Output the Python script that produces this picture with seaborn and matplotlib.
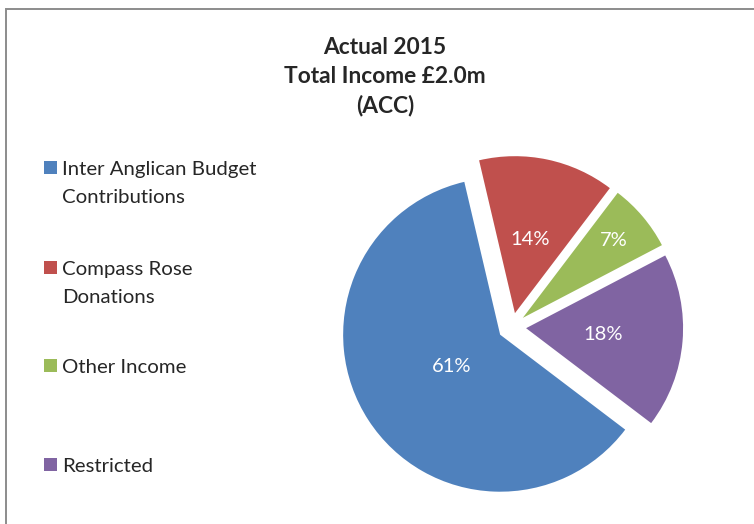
import matplotlib
matplotlib.use("Agg")
import matplotlib.pyplot as plt
from matplotlib.patches import Rectangle
import seaborn as sns
import numpy as np

# data
categories = ["Inter Anglican Budget\nContributions", "Compass Rose\nDonations", "Other Income", "Restricted"]
shares = [61, 14, 7, 18]
colors = ["#4F81BD", "#C0504D", "#9BBB59", "#8064A2"]
title = "Actual 2015\nTotal Income £2.0m\n(ACC)"

sns.set_theme(style="white")
plt.rcParams['font.family'] = ['Lato', 'DejaVu Sans']

W, H = 754, 524
fig = plt.figure(figsize=(W / 100, H / 100), dpi=100)

# chart frame (grey line on left and top only visible)
fig.patches.append(Rectangle((6 / W, -0.1), 1.2, (H - 9) / H + 0.1, transform=fig.transFigure,
                             fill=False, edgecolor="#8c8c8c", linewidth=1.4))

# pie axes: centre at (512, 327) px, radius 157 px
cx, cy, R = 512, H - 327, 157
lim = 1.15
half = lim * R
ax = fig.add_axes([(cx - half) / W, (cy - half) / H, 2 * half / W, 2 * half / H])

explode = [0.09] * len(shares)
wedges, texts, autotexts = ax.pie(
    shares, colors=colors, explode=explode, startangle=-37.2, counterclock=False,
    autopct="%1.0f%%", pctdistance=0.5,
    textprops=dict(color="white", fontsize=14.5),
    wedgeprops=dict(linewidth=0))

# Excel's "best fit" label spots, distance from each slice tip
label_dist = [0.37, 0.48, 0.76, 0.49]
for w, t, e, d in zip(wedges, autotexts, explode, label_dist):
    th = np.deg2rad((w.theta1 + w.theta2) / 2)
    t.set_position(((e + d) * np.cos(th), (e + d) * np.sin(th)))

ax.set_xlim(-lim, lim)
ax.set_ylim(-lim, lim)
ax.set_aspect("equal")
ax.axis("off")

fig.text(385 / W, 1 - 77 / H, title, ha="center", va="center", fontsize=16.4,
         fontweight="bold", linespacing=1.45)

# legend, first lines evenly spaced
leg_y = [167, 267, 365, 464]
for lab, col, y in zip(categories, colors, leg_y):
    fig.patches.append(Rectangle((44 / W, 1 - (y + 6.5) / H), 13 / W, 13 / H,
                                 transform=fig.transFigure, color=col, linewidth=0))
    fig.text(62 / W, 1 - (y - 6) / H, lab, ha="left", va="top", fontsize=14.7, linespacing=1.77)

fig.savefig("out.png", dpi=100)
